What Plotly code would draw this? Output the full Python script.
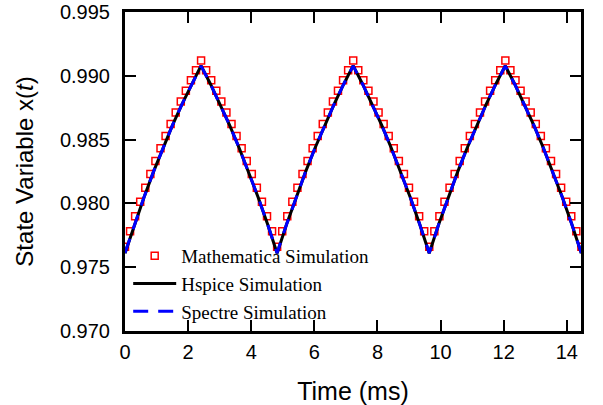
import plotly.graph_objects as go

# ---- data ----
mathematica_t = [
    0.000, 0.161, 0.321, 0.482, 0.643, 0.804, 0.964, 1.125, 1.286, 1.446,
    1.607, 1.768, 1.928, 2.089, 2.250, 2.411, 2.571, 2.732, 2.893, 3.053,
    3.214, 3.375, 3.535, 3.696, 3.857, 4.018, 4.178, 4.339, 4.500, 4.660,
    4.821, 4.982, 5.142, 5.303, 5.464, 5.625, 5.785, 5.946, 6.107, 6.267,
    6.428, 6.589, 6.749, 6.910, 7.071, 7.232, 7.392, 7.553, 7.714, 7.874,
    8.035, 8.196, 8.356, 8.517, 8.678, 8.839, 8.999, 9.160, 9.321, 9.481,
    9.642, 9.803, 9.963, 10.124, 10.285, 10.446, 10.606, 10.767, 10.928, 11.088,
    11.249, 11.410, 11.570, 11.731, 11.892, 12.053, 12.213, 12.374, 12.535, 12.695,
    12.856, 13.017, 13.177, 13.338, 13.499, 13.660, 13.820, 13.981, 14.142, 14.302,
    14.463,
]
mathematica_x = [
    0.97660, 0.97782, 0.97899, 0.98013, 0.98123, 0.98230, 0.98333, 0.98432, 0.98529, 0.98622,
    0.98712, 0.98799, 0.98883, 0.98965, 0.99044, 0.99120, 0.99044, 0.98965, 0.98883, 0.98799,
    0.98712, 0.98622, 0.98529, 0.98432, 0.98333, 0.98230, 0.98123, 0.98013, 0.97899, 0.97782,
    0.97660, 0.97782, 0.97899, 0.98013, 0.98123, 0.98230, 0.98333, 0.98432, 0.98529, 0.98622,
    0.98712, 0.98799, 0.98883, 0.98965, 0.99044, 0.99120, 0.99044, 0.98965, 0.98883, 0.98799,
    0.98712, 0.98622, 0.98529, 0.98432, 0.98333, 0.98230, 0.98123, 0.98013, 0.97899, 0.97782,
    0.97660, 0.97782, 0.97899, 0.98013, 0.98123, 0.98230, 0.98333, 0.98432, 0.98529, 0.98622,
    0.98712, 0.98799, 0.98883, 0.98965, 0.99044, 0.99120, 0.99044, 0.98965, 0.98883, 0.98799,
    0.98712, 0.98622, 0.98529, 0.98432, 0.98333, 0.98230, 0.98123, 0.98013, 0.97899, 0.97782,
    0.97660,
]

sim_t = [
    0.000, 0.301, 0.603, 0.904, 1.205, 1.506, 1.808, 2.109, 2.410,
    2.711, 3.013, 3.314, 3.615, 3.916, 4.218, 4.519, 4.820,
    5.121, 5.423, 5.724, 6.025, 6.326, 6.628, 6.929, 7.230,
    7.531, 7.833, 8.134, 8.435, 8.736, 9.038, 9.339, 9.640,
    9.941, 10.243, 10.544, 10.845, 11.146, 11.448, 11.749, 12.050,
    12.351, 12.653, 12.954, 13.255, 13.556, 13.858, 14.159, 14.460,
]
hspice_x = [
    0.97610, 0.97836, 0.98049, 0.98249, 0.98436, 0.98613, 0.98778, 0.98934, 0.99080,
    0.98934, 0.98778, 0.98613, 0.98436, 0.98249, 0.98049, 0.97836, 0.97610,
    0.97836, 0.98049, 0.98249, 0.98436, 0.98613, 0.98778, 0.98934, 0.99080,
    0.98934, 0.98778, 0.98613, 0.98436, 0.98249, 0.98049, 0.97836, 0.97610,
    0.97836, 0.98049, 0.98249, 0.98436, 0.98613, 0.98778, 0.98934, 0.99080,
    0.98934, 0.98778, 0.98613, 0.98436, 0.98249, 0.98049, 0.97836, 0.97610,
]
spectre_x = [
    0.97612, 0.97836, 0.98049, 0.98249, 0.98436, 0.98613, 0.98778, 0.98934, 0.99078,
    0.98934, 0.98778, 0.98613, 0.98436, 0.98249, 0.98049, 0.97836, 0.97612,
    0.97836, 0.98049, 0.98249, 0.98436, 0.98613, 0.98778, 0.98934, 0.99078,
    0.98934, 0.98778, 0.98613, 0.98436, 0.98249, 0.98049, 0.97836, 0.97612,
    0.97836, 0.98049, 0.98249, 0.98436, 0.98613, 0.98778, 0.98934, 0.99078,
    0.98934, 0.98778, 0.98613, 0.98436, 0.98249, 0.98049, 0.97836, 0.97612,
]

x_ticks = [0, 2, 4, 6, 8, 10, 12, 14]
y_ticks = [0.970, 0.975, 0.980, 0.985, 0.990, 0.995]

fig = go.Figure()
fig.add_trace(go.Scatter(
    x=mathematica_t, y=mathematica_x, mode="markers", name="Mathematica Simulation",
    marker=dict(symbol="square-open", size=7, color="#ff0000", line=dict(width=1.5, color="#ff0000")),
))
fig.add_trace(go.Scatter(
    x=sim_t, y=hspice_x, mode="lines", name="Hspice Simulation",
    line=dict(color="#000000", width=3),
))
fig.add_trace(go.Scatter(
    x=sim_t, y=spectre_x, mode="lines", name="Spectre Simulation",
    line=dict(color="#0000ff", width=3, dash="15px,10px"),
))

axis_font = dict(family="Arial, Liberation Sans, sans-serif", size=20, color="#000000")
fig.update_layout(
    width=603, height=405,
    margin=dict(l=125, r=22, t=12, b=74, autoexpand=False),
    paper_bgcolor="white", plot_bgcolor="white",
    font=axis_font,
    showlegend=True,
    legend=dict(
        x=0.007, y=0.295, xanchor="left", yanchor="top",
        bgcolor="rgba(0,0,0,0)",
        font=dict(family="Times New Roman, Liberation Serif, serif", size=19, color="#000000"),
        itemwidth=43, tracegroupgap=0,
    ),
    xaxis=dict(
        range=[0, 14.45], tickvals=x_ticks, ticks="inside", ticklen=11, tickwidth=1.5,
        tickcolor="#000000", showline=True, linecolor="#000000", linewidth=3, mirror="allticks",
        showgrid=False, zeroline=False, tickfont=axis_font, automargin=False,
        ticklabelstandoff=1, ticklabeloverflow="allow",
        title=dict(text="Time (ms)", font=dict(family="Arial, Liberation Sans, sans-serif", size=25), standoff=21),
    ),
    yaxis=dict(
        range=[0.970, 0.995], tickvals=y_ticks, tickformat=".3f", ticks="inside", ticklen=11,
        tickwidth=1.5, tickcolor="#000000", showline=True, linecolor="#000000", linewidth=3,
        mirror="allticks", showgrid=False, zeroline=False, tickfont=axis_font, automargin=False,
        ticklabelstandoff=8, ticklabeloverflow="allow",
        title=dict(text="State Variable x(<i>t</i>)", font=dict(family="Arial, Liberation Sans, sans-serif", size=24), standoff=20),
    ),
)

fig.write_html("out.html", config={"displayModeBar": False},
               post_script="document.body.style.margin='0';")
